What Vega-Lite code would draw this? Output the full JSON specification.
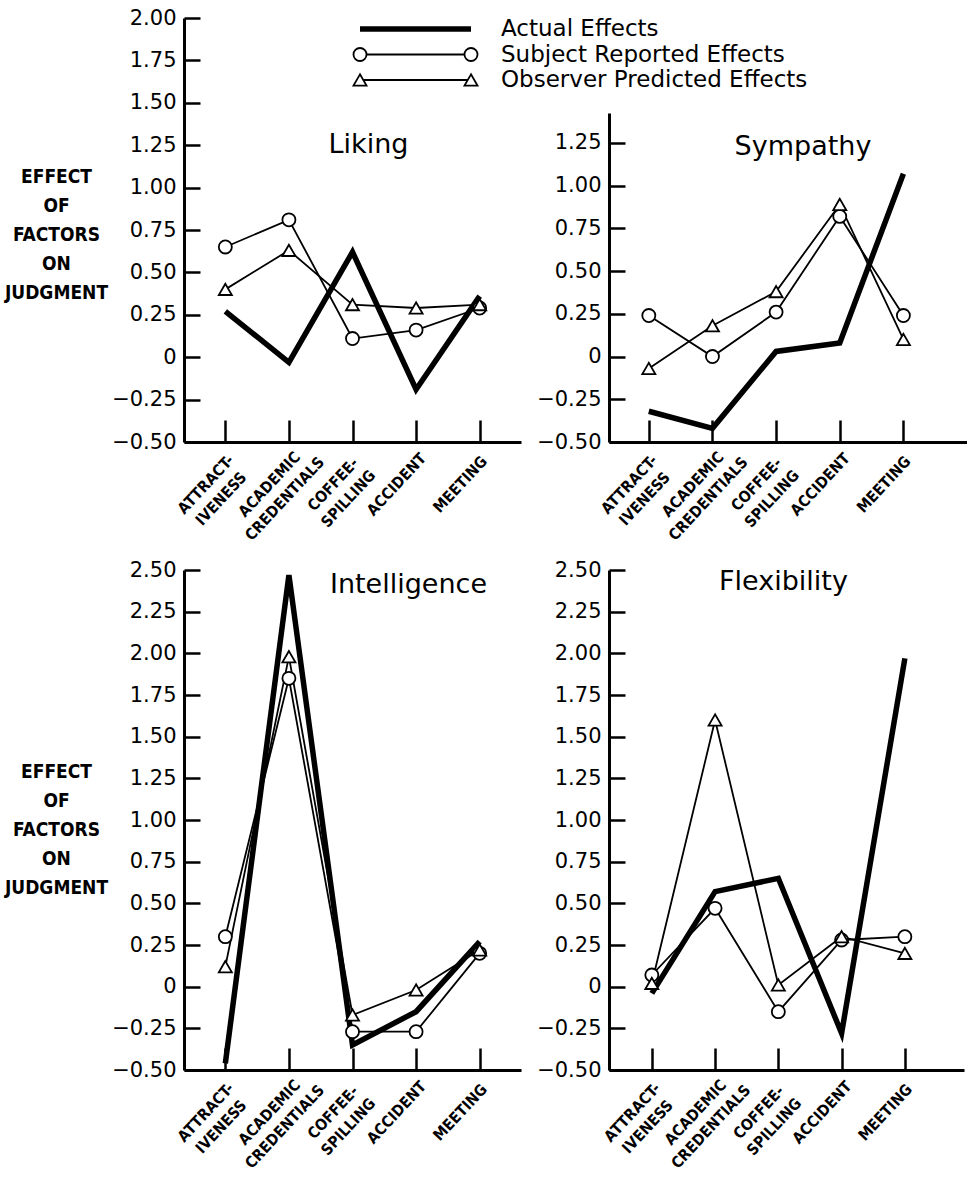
{
  "$schema": "https://vega.github.io/schema/vega-lite/v6.json",
  "background": "white",
  "padding": {"left": 4, "top": 7, "right": 0, "bottom": 0},
  "config": {
    "view": {"stroke": null},
    "axis": {"domainColor": "black", "domainWidth": 3, "tickColor": "black", "tickWidth": 2.5, "labelColor": "black", "titleColor": "black", "grid": false, "labelOverlap": false},
    "axisX": {"labelExpr": "split(datum.label, ' ')", "labelAngle": -47, "labelAlign": "center", "labelBaseline": "middle", "labelFont": "DejaVu Sans Condensed, DejaVu Sans, sans-serif", "labelFontWeight": "bold", "labelFontSize": 15.5, "labelLineHeight": 21, "labelOffset": -20, "labelPadding": 64, "tickSize": -22, "labelBound": false, "labelFlush": false, "title": null},
    "axisY": {"labelFont": "DejaVu Sans", "labelFontSize": 21, "tickSize": -16, "labelPadding": 24, "labelExpr": "datum.value == 0 ? '0' : format(datum.value, '.2f')", "titleFont": "DejaVu Sans Condensed, DejaVu Sans, sans-serif", "titleFontWeight": "bold", "titleFontSize": 19, "titleLineHeight": 29, "titleAngle": 0, "titleAlign": "center", "titleBaseline": "middle", "titleX": -128},
    "title": {"font": "DejaVu Sans", "fontSize": 27, "fontWeight": "normal", "color": "black", "frame": "group", "anchor": "middle", "baseline": "middle"}
  },
  "datasets": {
    "effects": [
      {"panel": "Liking", "series": "Actual Effects", "factor": "ATTRACT- IVENESS", "value": 0.27},
      {"panel": "Liking", "series": "Actual Effects", "factor": "ACADEMIC CREDENTIALS", "value": -0.03},
      {"panel": "Liking", "series": "Actual Effects", "factor": "COFFEE- SPILLING", "value": 0.62},
      {"panel": "Liking", "series": "Actual Effects", "factor": "ACCIDENT", "value": -0.19},
      {"panel": "Liking", "series": "Actual Effects", "factor": "MEETING", "value": 0.36},
      {"panel": "Liking", "series": "Subject Reported Effects", "factor": "ATTRACT- IVENESS", "value": 0.65},
      {"panel": "Liking", "series": "Subject Reported Effects", "factor": "ACADEMIC CREDENTIALS", "value": 0.81},
      {"panel": "Liking", "series": "Subject Reported Effects", "factor": "COFFEE- SPILLING", "value": 0.11},
      {"panel": "Liking", "series": "Subject Reported Effects", "factor": "ACCIDENT", "value": 0.16},
      {"panel": "Liking", "series": "Subject Reported Effects", "factor": "MEETING", "value": 0.29},
      {"panel": "Liking", "series": "Observer Predicted Effects", "factor": "ATTRACT- IVENESS", "value": 0.40},
      {"panel": "Liking", "series": "Observer Predicted Effects", "factor": "ACADEMIC CREDENTIALS", "value": 0.63},
      {"panel": "Liking", "series": "Observer Predicted Effects", "factor": "COFFEE- SPILLING", "value": 0.31},
      {"panel": "Liking", "series": "Observer Predicted Effects", "factor": "ACCIDENT", "value": 0.29},
      {"panel": "Liking", "series": "Observer Predicted Effects", "factor": "MEETING", "value": 0.31},
      {"panel": "Sympathy", "series": "Actual Effects", "factor": "ATTRACT- IVENESS", "value": -0.32},
      {"panel": "Sympathy", "series": "Actual Effects", "factor": "ACADEMIC CREDENTIALS", "value": -0.42},
      {"panel": "Sympathy", "series": "Actual Effects", "factor": "COFFEE- SPILLING", "value": 0.03},
      {"panel": "Sympathy", "series": "Actual Effects", "factor": "ACCIDENT", "value": 0.08},
      {"panel": "Sympathy", "series": "Actual Effects", "factor": "MEETING", "value": 1.07},
      {"panel": "Sympathy", "series": "Subject Reported Effects", "factor": "ATTRACT- IVENESS", "value": 0.24},
      {"panel": "Sympathy", "series": "Subject Reported Effects", "factor": "ACADEMIC CREDENTIALS", "value": 0.0},
      {"panel": "Sympathy", "series": "Subject Reported Effects", "factor": "COFFEE- SPILLING", "value": 0.26},
      {"panel": "Sympathy", "series": "Subject Reported Effects", "factor": "ACCIDENT", "value": 0.82},
      {"panel": "Sympathy", "series": "Subject Reported Effects", "factor": "MEETING", "value": 0.24},
      {"panel": "Sympathy", "series": "Observer Predicted Effects", "factor": "ATTRACT- IVENESS", "value": -0.07},
      {"panel": "Sympathy", "series": "Observer Predicted Effects", "factor": "ACADEMIC CREDENTIALS", "value": 0.18},
      {"panel": "Sympathy", "series": "Observer Predicted Effects", "factor": "COFFEE- SPILLING", "value": 0.38},
      {"panel": "Sympathy", "series": "Observer Predicted Effects", "factor": "ACCIDENT", "value": 0.89},
      {"panel": "Sympathy", "series": "Observer Predicted Effects", "factor": "MEETING", "value": 0.10},
      {"panel": "Intelligence", "series": "Actual Effects", "factor": "ATTRACT- IVENESS", "value": -0.46},
      {"panel": "Intelligence", "series": "Actual Effects", "factor": "ACADEMIC CREDENTIALS", "value": 2.47},
      {"panel": "Intelligence", "series": "Actual Effects", "factor": "COFFEE- SPILLING", "value": -0.35},
      {"panel": "Intelligence", "series": "Actual Effects", "factor": "ACCIDENT", "value": -0.15},
      {"panel": "Intelligence", "series": "Actual Effects", "factor": "MEETING", "value": 0.27},
      {"panel": "Intelligence", "series": "Subject Reported Effects", "factor": "ATTRACT- IVENESS", "value": 0.30},
      {"panel": "Intelligence", "series": "Subject Reported Effects", "factor": "ACADEMIC CREDENTIALS", "value": 1.85},
      {"panel": "Intelligence", "series": "Subject Reported Effects", "factor": "COFFEE- SPILLING", "value": -0.27},
      {"panel": "Intelligence", "series": "Subject Reported Effects", "factor": "ACCIDENT", "value": -0.27},
      {"panel": "Intelligence", "series": "Subject Reported Effects", "factor": "MEETING", "value": 0.20},
      {"panel": "Intelligence", "series": "Observer Predicted Effects", "factor": "ATTRACT- IVENESS", "value": 0.12},
      {"panel": "Intelligence", "series": "Observer Predicted Effects", "factor": "ACADEMIC CREDENTIALS", "value": 1.98},
      {"panel": "Intelligence", "series": "Observer Predicted Effects", "factor": "COFFEE- SPILLING", "value": -0.17},
      {"panel": "Intelligence", "series": "Observer Predicted Effects", "factor": "ACCIDENT", "value": -0.02},
      {"panel": "Intelligence", "series": "Observer Predicted Effects", "factor": "MEETING", "value": 0.22},
      {"panel": "Flexibility", "series": "Actual Effects", "factor": "ATTRACT- IVENESS", "value": -0.04},
      {"panel": "Flexibility", "series": "Actual Effects", "factor": "ACADEMIC CREDENTIALS", "value": 0.57},
      {"panel": "Flexibility", "series": "Actual Effects", "factor": "COFFEE- SPILLING", "value": 0.65},
      {"panel": "Flexibility", "series": "Actual Effects", "factor": "ACCIDENT", "value": -0.28},
      {"panel": "Flexibility", "series": "Actual Effects", "factor": "MEETING", "value": 1.97},
      {"panel": "Flexibility", "series": "Subject Reported Effects", "factor": "ATTRACT- IVENESS", "value": 0.07},
      {"panel": "Flexibility", "series": "Subject Reported Effects", "factor": "ACADEMIC CREDENTIALS", "value": 0.47},
      {"panel": "Flexibility", "series": "Subject Reported Effects", "factor": "COFFEE- SPILLING", "value": -0.15},
      {"panel": "Flexibility", "series": "Subject Reported Effects", "factor": "ACCIDENT", "value": 0.28},
      {"panel": "Flexibility", "series": "Subject Reported Effects", "factor": "MEETING", "value": 0.30},
      {"panel": "Flexibility", "series": "Observer Predicted Effects", "factor": "ATTRACT- IVENESS", "value": 0.02},
      {"panel": "Flexibility", "series": "Observer Predicted Effects", "factor": "ACADEMIC CREDENTIALS", "value": 1.60},
      {"panel": "Flexibility", "series": "Observer Predicted Effects", "factor": "COFFEE- SPILLING", "value": 0.01},
      {"panel": "Flexibility", "series": "Observer Predicted Effects", "factor": "ACCIDENT", "value": 0.30},
      {"panel": "Flexibility", "series": "Observer Predicted Effects", "factor": "MEETING", "value": 0.20}
    ],
    "legend": [
      {"series": "Actual Effects", "end": "start"},
      {"series": "Actual Effects", "end": "end"},
      {"series": "Subject Reported Effects", "end": "start"},
      {"series": "Subject Reported Effects", "end": "end"},
      {"series": "Observer Predicted Effects", "end": "start"},
      {"series": "Observer Predicted Effects", "end": "end"}
    ]
  },
  "columns": 2,
  "spacing": {"row": 128, "column": 88},
  "bounds": "flush",
  "concat": [
    {
      "width": 337, "height": 424,
      "title": {"text": "Liking", "dx": 16, "offset": -152},
      "layer": [
        {
          "data": {"name": "effects"},
          "transform": [{"filter": "datum.panel === 'Liking'"}],
          "encoding": {
            "x": {"field": "factor", "type": "ordinal", "sort": null, "scale": {"type": "point", "domain": ["ATTRACT- IVENESS", "ACADEMIC CREDENTIALS", "COFFEE- SPILLING", "ACCIDENT", "MEETING"], "padding": 0.65}},
            "y": {"field": "value", "type": "quantitative", "scale": {"domain": [-0.5, 2.0], "nice": false, "zero": false}, "axis": {"values": [-0.5, -0.25, 0, 0.25, 0.5, 0.75, 1, 1.25, 1.5, 1.75, 2], "title": ["EFFECT", "OF", "FACTORS", "ON", "JUDGMENT"], "titleY": 158}}
          },
          "layer": [
            {"transform": [{"filter": "datum.series !== 'Actual Effects'"}], "mark": {"type": "line", "color": "black", "strokeWidth": 1.8}, "encoding": {"detail": {"field": "series"}, "order": {"value": null}}},
            {"transform": [{"filter": "datum.series === 'Actual Effects'"}], "mark": {"type": "line", "color": "black", "strokeWidth": 5.5, "strokeJoin": "miter"}, "encoding": {"order": {"value": null}}},
            {"transform": [{"filter": "datum.series !== 'Actual Effects'"}], "mark": {"type": "point", "filled": true, "fill": "white", "stroke": "black", "strokeWidth": 1.8, "size": 170, "opacity": 1}, "encoding": {"shape": {"field": "series", "type": "nominal", "scale": {"domain": ["Subject Reported Effects", "Observer Predicted Effects"], "range": ["circle", "triangle-up"]}, "legend": null}}}
          ]
        },
        {
          "data": {"name": "legend"},
          "encoding": {
            "x": {"field": "end", "type": "ordinal", "sort": null, "scale": {"type": "point", "domain": ["start", "end"], "range": [176, 287], "padding": 0}, "axis": null},
            "y": {"field": "series", "type": "ordinal", "sort": null, "scale": {"type": "point", "domain": ["Actual Effects", "Subject Reported Effects", "Observer Predicted Effects"], "range": [11, 62], "padding": 0}, "axis": null}
          },
          "layer": [
            {"transform": [{"filter": "datum.series !== 'Actual Effects'"}], "mark": {"type": "line", "color": "black", "strokeWidth": 1.8}, "encoding": {"detail": {"field": "series"}, "order": {"value": null}}},
            {"transform": [{"filter": "datum.series === 'Actual Effects'"}], "mark": {"type": "line", "color": "black", "strokeWidth": 5.5}, "encoding": {"order": {"value": null}}},
            {"transform": [{"filter": "datum.series !== 'Actual Effects'"}], "mark": {"type": "point", "filled": true, "fill": "white", "stroke": "black", "strokeWidth": 1.8, "size": 170, "opacity": 1}, "encoding": {"shape": {"field": "series", "type": "nominal", "scale": {"domain": ["Subject Reported Effects", "Observer Predicted Effects"], "range": ["circle", "triangle-up"]}, "legend": null}}},
            {"transform": [{"filter": "datum.end === 'end'"}], "mark": {"type": "text", "align": "left", "baseline": "middle", "dx": 30, "font": "DejaVu Sans", "fontSize": 23, "color": "black"}, "encoding": {"text": {"field": "series"}}}
          ]
        }
      ],
      "resolve": {"scale": {"x": "independent", "y": "independent"}}
    },
    {
      "width": 358, "height": 424,
      "title": {"text": "Sympathy", "dx": 15, "offset": -143},
      "data": {"name": "effects"},
      "transform": [{"filter": "datum.panel === 'Sympathy'"}],
      "encoding": {
        "x": {"field": "factor", "type": "ordinal", "sort": null, "scale": {"type": "point", "domain": ["ATTRACT- IVENESS", "ACADEMIC CREDENTIALS", "COFFEE- SPILLING", "ACCIDENT", "MEETING"], "padding": 0.8125, "align": 0.385}},
        "y": {"field": "value", "type": "quantitative", "scale": {"domain": [-0.5, 1.425], "range": [424, 95], "nice": false, "zero": false}, "axis": {"values": [-0.5, -0.25, 0, 0.25, 0.5, 0.75, 1, 1.25], "title": null}}
      },
      "layer": [
        {"transform": [{"filter": "datum.series !== 'Actual Effects'"}], "mark": {"type": "line", "color": "black", "strokeWidth": 1.8}, "encoding": {"detail": {"field": "series"}, "order": {"value": null}}},
        {"transform": [{"filter": "datum.series === 'Actual Effects'"}], "mark": {"type": "line", "color": "black", "strokeWidth": 5.5, "strokeJoin": "miter"}, "encoding": {"order": {"value": null}}},
        {"transform": [{"filter": "datum.series !== 'Actual Effects'"}], "mark": {"type": "point", "filled": true, "fill": "white", "stroke": "black", "strokeWidth": 1.8, "size": 170, "opacity": 1}, "encoding": {"shape": {"field": "series", "type": "nominal", "scale": {"domain": ["Subject Reported Effects", "Observer Predicted Effects"], "range": ["circle", "triangle-up"]}, "legend": null}}}
      ]
    },
    {
      "width": 337, "height": 500,
      "title": {"text": "Intelligence", "dx": 56, "offset": -40},
      "data": {"name": "effects"},
      "transform": [{"filter": "datum.panel === 'Intelligence'"}],
      "encoding": {
        "x": {"field": "factor", "type": "ordinal", "sort": null, "scale": {"type": "point", "domain": ["ATTRACT- IVENESS", "ACADEMIC CREDENTIALS", "COFFEE- SPILLING", "ACCIDENT", "MEETING"], "padding": 0.65}},
        "y": {"field": "value", "type": "quantitative", "scale": {"domain": [-0.5, 2.5], "nice": false, "zero": false}, "axis": {"values": [-0.5, -0.25, 0, 0.25, 0.5, 0.75, 1, 1.25, 1.5, 1.75, 2, 2.25, 2.5], "title": ["EFFECT", "OF", "FACTORS", "ON", "JUDGMENT"], "titleY": 201}}
      },
      "layer": [
        {"transform": [{"filter": "datum.series !== 'Actual Effects'"}], "mark": {"type": "line", "color": "black", "strokeWidth": 1.8}, "encoding": {"detail": {"field": "series"}, "order": {"value": null}}},
        {"transform": [{"filter": "datum.series === 'Actual Effects'"}], "mark": {"type": "line", "color": "black", "strokeWidth": 5.5, "strokeJoin": "miter"}, "encoding": {"order": {"value": null}}},
        {"transform": [{"filter": "datum.series !== 'Actual Effects'"}], "mark": {"type": "point", "filled": true, "fill": "white", "stroke": "black", "strokeWidth": 1.8, "size": 170, "opacity": 1}, "encoding": {"shape": {"field": "series", "type": "nominal", "scale": {"domain": ["Subject Reported Effects", "Observer Predicted Effects"], "range": ["circle", "triangle-up"]}, "legend": null}}}
      ]
    },
    {
      "width": 355, "height": 500,
      "title": {"text": "Flexibility", "dx": -3, "offset": -37},
      "data": {"name": "effects"},
      "transform": [{"filter": "datum.panel === 'Flexibility'"}],
      "encoding": {
        "x": {"field": "factor", "type": "ordinal", "sort": null, "scale": {"type": "point", "domain": ["ATTRACT- IVENESS", "ACADEMIC CREDENTIALS", "COFFEE- SPILLING", "ACCIDENT", "MEETING"], "padding": 0.806, "align": 0.42}},
        "y": {"field": "value", "type": "quantitative", "scale": {"domain": [-0.5, 2.5], "nice": false, "zero": false}, "axis": {"values": [-0.5, -0.25, 0, 0.25, 0.5, 0.75, 1, 1.25, 1.5, 1.75, 2, 2.25, 2.5], "title": null}}
      },
      "layer": [
        {"transform": [{"filter": "datum.series !== 'Actual Effects'"}], "mark": {"type": "line", "color": "black", "strokeWidth": 1.8}, "encoding": {"detail": {"field": "series"}, "order": {"value": null}}},
        {"transform": [{"filter": "datum.series === 'Actual Effects'"}], "mark": {"type": "line", "color": "black", "strokeWidth": 5.5, "strokeJoin": "miter"}, "encoding": {"order": {"value": null}}},
        {"transform": [{"filter": "datum.series !== 'Actual Effects'"}], "mark": {"type": "point", "filled": true, "fill": "white", "stroke": "black", "strokeWidth": 1.8, "size": 170, "opacity": 1}, "encoding": {"shape": {"field": "series", "type": "nominal", "scale": {"domain": ["Subject Reported Effects", "Observer Predicted Effects"], "range": ["circle", "triangle-up"]}, "legend": null}}}
      ]
    }
  ]
}
